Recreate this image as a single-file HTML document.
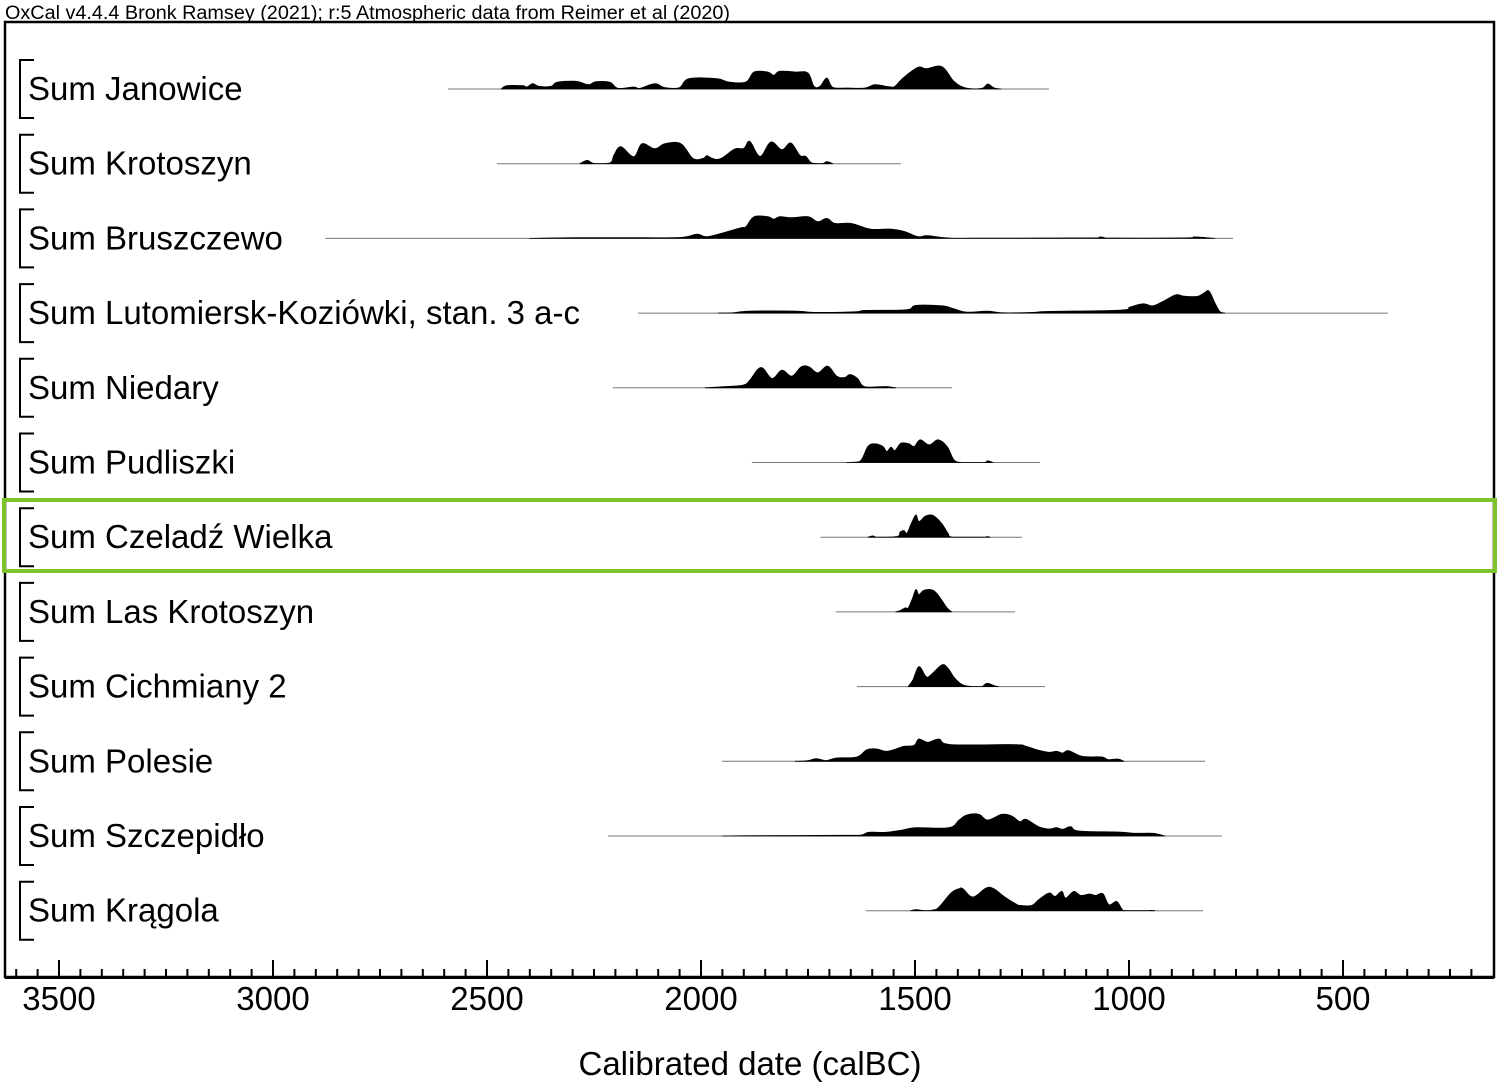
<!DOCTYPE html>
<html><head><meta charset="utf-8"><style>
html,body{margin:0;padding:0;background:#fff;}
svg{display:block;font-family:"Liberation Sans","Noto Sans CJK JP",sans-serif;}
</style></head><body>
<svg id="chart" width="1500" height="1086" viewBox="0 0 1500 1086" xmlns="http://www.w3.org/2000/svg">
<text x="5" y="19" font-size="19" textLength="725" lengthAdjust="spacingAndGlyphs" fill="#000">OxCal v4.4.4 Bronk Ramsey (2021); r:5 Atmospheric data from Reimer et al (2020)</text>
<rect x="5" y="22" width="1489" height="955" fill="none" stroke="#000" stroke-width="2.5"/>
<g id="rows"></g>
<g id="axis"></g>
<rect x="4" y="500" width="1491" height="71" fill="none" stroke="#7dc22a" stroke-width="4"/>
<text x="750" y="1075" font-size="33" text-anchor="middle" fill="#000">Calibrated date (calBC)</text>
</svg>
<script>
const labels = ["Sum Janowice","Sum Krotoszyn","Sum Bruszczewo","Sum Lutomiersk-Koziówki, stan. 3 a-c","Sum Niedary","Sum Pudliszki","Sum Czeladź Wielka","Sum Las Krotoszyn","Sum Cichmiany 2","Sum Polesie","Sum Szczepidło","Sum Krągola"];
const ranges = [[2591,1187],[2477,1533],[2878,757],[2147,395],[2206,1414],[1881,1208],[1721,1250],[1685,1266],[1636,1196],[1951,822],[2217,783],[1615,827]];
const s0 = [[2467,0],[2453,3.3],[2416,3.3],[2407,2],[2393,5.3],[2379,2.7],[2350,2.7],[2336,6.7],[2292,7.7],[2264,4.3],[2245,7.3],[2213,6.7],[2194,0.7],[2157,2],[2143,0.7],[2108,5.3],[2084,1.3],[2051,1.3],[2028,10.3],[1963,10.3],[1935,7],[1895,7],[1876,17],[1844,17],[1830,13.7],[1816,17.7],[1778,17],[1750,16],[1736,2.7],[1722,2.7],[1706,11],[1692,1.7],[1659,1],[1617,1],[1594,4.3],[1561,2.3],[1547,2.7],[1528,11],[1493,21.7],[1474,20.3],[1437,22.3],[1409,7.7],[1381,1],[1344,0.7],[1330,5],[1316,1.3],[1299,0]];
const s1 = [[2283,0],[2266,3.3],[2250,0.3],[2213,0.7],[2203,9],[2187,17],[2157,7],[2138,20],[2108,15],[2084,20],[2047,20],[2019,5.3],[1995,5.3],[1986,8],[1972,5],[1953,5.3],[1921,14.7],[1900,15.3],[1886,22.3],[1862,7.3],[1837,21.7],[1811,14],[1790,20.7],[1769,8.3],[1755,7.3],[1741,0.7],[1717,0],[1706,2],[1692,0]];
const s2 = [[2400,0],[2287,0.7],[2147,0.7],[2047,1],[2009,4.3],[1988,1.7],[1953,5],[1907,10.7],[1895,11.7],[1876,21.7],[1844,21.7],[1830,19.3],[1816,21.7],[1788,20.7],[1750,21.7],[1727,16.7],[1706,20],[1687,15],[1650,15],[1612,10],[1594,9],[1556,9.3],[1523,6.7],[1493,1.7],[1470,2.7],[1418,0.3],[1316,0.3],[1080,0.5],[1068,1.5],[1050,0.4],[870,0.5],[846,1.5],[800,0]];
const s3 = [[1960,0],[1925,0.3],[1886,2],[1778,2],[1736,0.7],[1640,1.3],[1617,2.7],[1521,3.3],[1498,7.7],[1437,7.3],[1414,5],[1379,1],[1330,2],[1295,0.3],[1225,0.7],[1187,1.7],[1021,3],[998,6],[967,9.3],[944,7.3],[918,12.3],[890,18.3],[872,17],[841,16.7],[825,20],[813,22],[799,10],[788,1.7],[776,0]];
const s4 = [[1990,0],[1951,1],[1902,2.7],[1886,7.7],[1860,20.3],[1834,9.3],[1811,17.7],[1788,11.7],[1766,21],[1748,21],[1727,15],[1704,21.7],[1683,11.7],[1664,10.3],[1652,13.3],[1634,9.3],[1617,1],[1568,1.3],[1545,0]];
const s5 = [[1660,0],[1629,1],[1610,16],[1594,18.7],[1575,16],[1566,11],[1556,15.3],[1547,12],[1533,19.3],[1514,18.7],[1502,16],[1488,22.7],[1467,17.7],[1446,22.7],[1425,16],[1409,2.7],[1390,0],[1340,0],[1330,1.7],[1318,0]];
const s6 = [[1610,0],[1598,1.3],[1587,0],[1542,0.7],[1535,5],[1526,6.7],[1519,4],[1509,13.3],[1498,22.3],[1491,15.7],[1477,20.7],[1465,22.3],[1454,20.7],[1437,13.3],[1423,4],[1411,0],[1340,0],[1332,0.7],[1325,0]];
const s7 = [[1545,0],[1535,1.3],[1523,4],[1516,4],[1507,12.3],[1498,22.3],[1491,17.3],[1479,21.7],[1458,21.7],[1444,15.7],[1425,4],[1414,0]];
const s8 = [[1516,0],[1505,6.7],[1491,20],[1474,10],[1463,11.7],[1437,21.7],[1423,18.3],[1407,8.3],[1388,1.7],[1365,0],[1344,0],[1332,3.3],[1313,0.7],[1305,0]];
const s9 = [[1780,0],[1750,0.7],[1731,2.7],[1708,0.7],[1683,3.3],[1636,4.3],[1612,11.7],[1589,12.3],[1568,10],[1549,11.7],[1526,15],[1502,16],[1491,22.3],[1470,19],[1444,22.3],[1416,16.7],[1269,16.7],[1241,15],[1211,11],[1187,9],[1169,10],[1155,8.3],[1141,10.7],[1110,5],[1063,4.3],[1049,1.7],[1026,2.3],[1012,0]];
const s10 = [[1950,0],[1874,0.3],[1664,0.7],[1626,1],[1608,3.7],[1568,3.7],[1530,6],[1498,8.3],[1421,8.3],[1397,16],[1379,21],[1351,21.7],[1330,16],[1297,21.7],[1274,20],[1255,14.3],[1241,16.7],[1211,9.3],[1187,7],[1169,8.3],[1155,6.7],[1136,9.3],[1117,5],[1026,4],[986,2.7],[944,2.7],[916,0]];
const s11 = [[1510,0],[1498,1],[1474,0],[1449,1.7],[1416,17.7],[1397,22],[1388,22],[1365,13.7],[1334,22.7],[1316,22],[1292,14.3],[1264,6.7],[1255,5.3],[1227,5.3],[1211,11],[1187,17.7],[1173,14.3],[1157,19.3],[1148,12.7],[1129,19.3],[1113,15.3],[1092,16.7],[1078,15.3],[1061,17],[1047,6],[1029,9.3],[1017,2],[1007,0],[960,0],[949,0.3],[940,0]];
const series = [s0,s1,s2,s3,s4,s5,s6,s7,s8,s9,s10,s11];
const majorTicks = [3500,3000,2500,2000,1500,1000,500];

const NS = "http://www.w3.org/2000/svg";
function xScale(yr){ return 59 + (3500 - yr) * 0.428; }
function rowBase(i){ return 89 + i * 74.7; }
function el(tag, attrs, parent){ const e = document.createElementNS(NS, tag); for (const k in attrs) e.setAttribute(k, attrs[k]); parent.appendChild(e); return e; }
function smoothPath(P, b){
  let d = `M${P[0][0].toFixed(1)} ${b}`;
  d += ` L${P[0][0].toFixed(1)} ${P[0][1].toFixed(1)}`;
  for (let i = 0; i < P.length - 1; i++) {
    const p0 = P[Math.max(0,i-1)], p1 = P[i], p2 = P[i+1], p3 = P[Math.min(P.length-1,i+2)];
    const t = 0.18;
    let c1y = p1[1] + (p2[1]-p0[1])*t, c2y = p2[1] - (p3[1]-p1[1])*t;
    c1y = Math.min(c1y, b); c2y = Math.min(c2y, b);
    d += ` C${(p1[0]+(p2[0]-p0[0])*t).toFixed(1)} ${c1y.toFixed(1)} ${(p2[0]-(p3[0]-p1[0])*t).toFixed(1)} ${c2y.toFixed(1)} ${p2[0].toFixed(1)} ${p2[1].toFixed(1)}`;
  }
  d += ` L${P[P.length-1][0].toFixed(1)} ${b} Z`;
  return d;
}

const rowsG = document.getElementById('rows');
labels.forEach((lab, i) => {
  const b = rowBase(i);
  const g = el('g', {}, rowsG);
  
  
  const br = el('path', {d:`M34 ${b-29} H20 V${b+29} H34`, fill:'none', stroke:'#000', 'stroke-width':2}, g);
  
  
  const t = el('text', {x:28, y:b+11, 'font-size':33, fill:'#000'}, g);
  t.textContent = lab;
  
  
  const r = ranges[i];
  const ln = el('line', {x1:xScale(r[0]), x2:xScale(r[1]), y1:b, y2:b, stroke:'#777', 'stroke-width':1}, g);
  
  
  const P = series[i].map(p => [xScale(p[0]), b - p[1]]);
  const dist = el('path', {d:smoothPath(P, b), fill:'#000', stroke:'#000', 'stroke-width':0.8, 'stroke-linejoin':'round'}, g);
  
  
});

const axG = document.getElementById('axis');
const axLine = el('line', {x1:5, x2:1494, y1:977.5, y2:977.5, stroke:'#000', 'stroke-width':3}, axG);


for (let yr = 3600; yr >= 200; yr -= 50) {
  const x = xScale(yr);
  if (x < 6 || x > 1493) continue;
  const major = yr % 500 === 0;
  const tk = el('line', {x1:x, x2:x, y1:977, y2: major ? 960 : 969, stroke:'#000', 'stroke-width':2}, axG);
  
  
}
majorTicks.forEach(v => {
  const t = el('text', {x:xScale(v), y:1010, 'font-size':33, 'text-anchor':'middle', fill:'#000'}, axG);
  t.textContent = v;
  
  
});
</script>
</body></html>
